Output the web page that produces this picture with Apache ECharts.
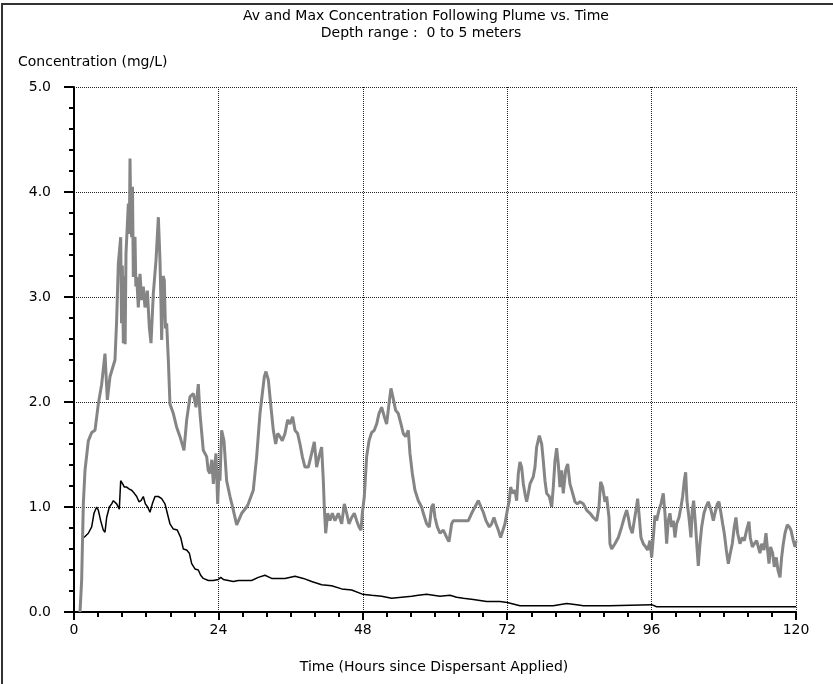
<!DOCTYPE html>
<html>
<head>
<meta charset="utf-8">
<script src="https://cdn.jsdelivr.net/npm/echarts@6/dist/echarts.min.js"></script>
<style>
  html, body { margin: 0; padding: 0; background: #fff; }
  #chart { width: 833px; height: 684px; }
</style>
</head>
<body>
<div id="chart"></div>
<script>
// max concentration following plume (gray) - hours / mg/L
var maxHours = [1.0,1.27,1.55,1.83,2.38,2.94,3.49,4.04,4.6,5.15,5.54,5.98,6.81,7.09,7.37,7.76,7.9,8.03,8.2,8.37,8.5,8.64,9.03,9.2,9.31,9.45,9.58,9.72,9.86,10.0,10.14,10.28,10.42,10.69,10.97,11.25,11.52,11.8,12.19,12.52,12.8,13.18,13.63,14.02,14.29,14.45,14.57,14.8,15.01,15.2,15.4,15.68,15.95,16.51,17.06,17.62,18.28,18.73,19.28,19.83,20.28,20.66,20.94,21.49,22.05,22.3,22.6,22.9,23.16,23.4,23.6,23.88,24.1,24.26,24.54,24.93,25.37,25.93,26.48,27.04,27.87,28.7,28.97,29.8,30.36,30.91,31.3,31.63,31.91,32.3,32.74,33.13,33.52,33.85,34.24,34.62,35.07,35.51,35.9,36.34,36.73,37.17,37.56,37.95,38.39,38.95,39.5,39.94,40.33,40.72,41.16,41.44,41.6,41.83,42.16,42.55,42.93,43.38,43.93,44.49,44.93,45.32,45.7,46.15,46.59,46.98,47.37,47.7,47.92,48.25,48.64,49.03,49.47,49.91,50.3,50.69,51.13,51.58,51.96,52.35,52.68,53.07,53.46,53.9,54.35,54.73,55.12,55.56,55.84,56.23,56.67,57.23,57.78,58.06,58.61,59.05,59.44,59.72,60.0,60.38,60.83,61.38,61.94,62.32,62.77,63.04,63.87,64.71,65.54,66.09,66.64,67.2,67.64,68.03,68.47,69.03,69.41,69.8,70.13,70.52,70.91,71.24,71.63,72.02,72.35,72.57,72.9,73.29,73.57,73.85,74.12,74.4,74.68,74.95,75.23,75.51,75.79,76.34,76.62,76.89,77.34,77.73,78.0,78.28,78.56,79.0,79.39,79.66,79.94,80.22,80.49,80.77,81.05,81.32,81.71,82.05,82.43,82.88,83.26,83.65,84.1,84.65,85.2,85.76,86.31,86.87,87.25,87.53,87.86,88.25,88.53,88.92,89.08,89.36,89.91,90.47,91.02,91.46,91.85,92.13,92.41,92.79,93.12,93.4,93.68,93.96,94.23,94.62,95.01,95.34,95.73,96.01,96.34,96.56,96.84,97.22,97.56,97.94,98.22,98.5,98.77,99.05,99.33,99.61,99.88,100.16,100.55,100.88,101.16,101.43,101.66,101.88,102.21,102.54,102.76,102.99,103.32,103.54,103.76,104.04,104.32,104.7,105.04,105.42,105.87,106.26,106.53,106.92,107.2,107.53,107.81,108.08,108.42,108.75,109.08,109.41,109.74,110.02,110.3,110.69,111.07,111.41,111.79,112.18,112.4,112.74,113.07,113.46,113.73,114.01,114.29,114.67,115.01,115.28,115.51,115.78,116.12,116.39,116.72,117.0,117.34,117.61,117.89,118.17,118.55,118.89,119.16,119.55,119.83,120.0];
var maxConc = [0.00,0.30,1.03,1.35,1.63,1.71,1.73,1.98,2.17,2.46,2.02,2.24,2.40,2.78,3.32,3.57,2.75,3.30,2.56,3.20,2.55,3.41,3.89,3.60,4.32,3.70,3.57,4.05,3.19,3.55,3.57,3.10,3.19,2.90,3.22,2.97,3.10,2.90,3.06,2.71,2.56,3.03,3.35,3.76,3.35,2.95,2.59,3.20,3.16,2.70,2.75,2.40,1.98,1.89,1.76,1.67,1.54,1.83,2.05,2.08,1.95,2.17,1.89,1.54,1.48,1.35,1.32,1.45,1.22,1.40,1.51,1.03,1.35,1.25,1.73,1.63,1.25,1.10,0.97,0.83,0.94,1.00,1.03,1.16,1.48,1.89,2.08,2.24,2.29,2.21,1.95,1.73,1.60,1.70,1.67,1.63,1.70,1.83,1.79,1.86,1.73,1.70,1.60,1.48,1.38,1.38,1.51,1.62,1.38,1.48,1.57,1.25,1.00,0.75,0.94,0.87,0.94,0.87,0.94,0.84,1.03,0.94,0.84,0.90,0.94,0.87,0.81,0.78,0.94,1.10,1.48,1.63,1.71,1.73,1.79,1.89,1.95,1.86,1.79,1.98,2.13,2.03,1.92,1.89,1.79,1.70,1.67,1.73,1.51,1.32,1.16,1.06,1.00,0.94,0.84,0.81,1.00,1.03,0.90,0.81,0.75,0.78,0.71,0.67,0.84,0.87,0.87,0.87,0.87,0.94,1.00,1.06,1.00,0.95,0.87,0.81,0.84,0.90,0.84,0.78,0.71,0.70,0.84,0.97,1.06,1.19,1.13,1.16,1.06,1.32,1.43,1.38,1.22,1.13,1.05,1.13,1.22,1.29,1.38,1.57,1.68,1.60,1.44,1.25,1.13,1.10,1.00,1.19,1.44,1.56,1.41,1.19,1.35,1.13,1.35,1.41,1.22,1.13,1.05,1.03,1.05,1.03,0.97,0.94,0.90,0.87,1.00,1.24,1.19,1.05,1.10,0.90,0.65,0.60,0.65,0.71,0.81,0.90,0.97,0.90,0.81,0.75,0.87,0.97,1.08,0.90,0.71,0.65,0.62,0.59,0.68,0.52,0.75,0.92,0.87,0.97,1.03,1.13,0.94,0.65,0.87,0.94,0.81,0.87,0.71,0.84,0.90,1.00,1.10,1.25,1.33,1.06,0.90,0.71,0.97,1.06,0.81,0.62,0.44,0.65,0.81,0.94,1.00,1.05,0.97,0.87,0.94,1.03,1.05,0.94,0.84,0.75,0.59,0.46,0.56,0.65,0.81,0.90,0.75,0.65,0.71,0.68,0.78,0.86,0.71,0.62,0.65,0.68,0.62,0.56,0.65,0.59,0.75,0.59,0.46,0.62,0.56,0.43,0.52,0.40,0.33,0.52,0.65,0.75,0.83,0.81,0.78,0.68,0.62,0.68];

// average concentration (black)
var avgHours = [1.66,2.38,2.94,3.32,3.77,4.04,4.43,4.87,5.15,5.43,5.87,6.26,6.54,7.09,7.53,7.76,8.09,8.37,8.75,9.2,9.58,10.03,10.42,10.8,11.14,11.52,11.86,12.24,12.63,13.02,13.46,14.02,14.57,15.12,15.51,15.95,16.51,17.17,17.73,18.17,18.73,19.17,19.56,20.11,20.66,21.05,21.49,22.33,23.16,23.99,24.38,24.82,25.65,26.48,27.31,28.42,29.52,30.63,31.74,32.85,33.96,35.07,36.73,38.12,39.5,41.16,42.82,44.49,46.15,47.92,49.47,51.13,52.79,54.45,56.12,57.23,58.61,59.72,60.83,62.49,63.6,64.71,66.37,68.58,70.8,72.02,74.12,76.89,79.66,81.88,83.54,84.65,87.42,88.97,96.01,96.84,120.0];
var avgConc = [0.71,0.75,0.81,0.94,1.00,0.97,0.87,0.78,0.76,0.90,1.00,1.03,1.06,1.03,0.98,1.25,1.22,1.19,1.19,1.17,1.16,1.13,1.10,1.05,1.06,1.10,1.03,1.00,0.95,1.03,1.10,1.10,1.08,1.03,0.94,0.84,0.79,0.78,0.71,0.60,0.59,0.56,0.46,0.41,0.40,0.35,0.32,0.30,0.30,0.31,0.33,0.31,0.30,0.29,0.30,0.30,0.30,0.33,0.35,0.32,0.32,0.32,0.34,0.32,0.29,0.26,0.25,0.22,0.21,0.17,0.16,0.15,0.13,0.14,0.15,0.16,0.17,0.16,0.15,0.16,0.14,0.13,0.12,0.10,0.10,0.09,0.06,0.06,0.06,0.08,0.07,0.06,0.06,0.06,0.07,0.05,0.05];

var xTicks = [0, 24, 48, 72, 96, 120];
var yTicks = [0.0, 1.0, 2.0, 3.0, 4.0, 5.0];

var fontName = 'DejaVu Sans';

function zip (xs, ys) {
  var out = [];
  for (var i = 0; i < xs.length; i++) {
    out.push([xs[i], ys[i]]);
  }
  return out;
}

function label (text, x, y, align) {
  return {
    type: 'text', x: x, y: y,
    style: { text: text, font: '14px "' + fontName + '"', fill: '#000', textAlign: align, textVerticalAlign: 'middle' }
  };
}

var chart = echarts.init(document.getElementById('chart'));

var option = {
  animation: false,
  backgroundColor: '#fff',
  grid: {
    left: 74,
    right: 37,
    top: 87,
    bottom: 72
  },
  graphic: [
    {
      type: 'rect',
      shape: { x: 2, y: 4, width: 860, height: 720 },
      style: { fill: 'none', stroke: '#333', lineWidth: 2 }
    },
    label('Av and Max Concentration Following Plume vs. Time', 426, 16, 'center'),
    label('Depth range :  0 to 5 meters', 421, 33, 'center'),
    label('Concentration (mg/L)', 18, 62, 'left'),
    label('Time (Hours since Dispersant Applied)', 434, 667, 'center')
  ],
  xAxis: {
    type: 'value',
    min: xTicks[0],
    max: xTicks[xTicks.length - 1],
    interval: 24,
    axisLine: { show: true, onZero: false, lineStyle: { color: '#000', width: 2 } },
    axisTick: { show: true, inside: false, length: 8, lineStyle: { color: '#000', width: 2 } },
    minorTick: { show: true, splitNumber: 6, length: 5, lineStyle: { color: '#000', width: 2 } },
    axisLabel: { color: '#000', fontFamily: fontName, fontSize: 14, margin: 11 },
    splitLine: { show: true, lineStyle: { color: '#222', width: 1, type: [1, 1] } }
  },
  yAxis: {
    type: 'value',
    min: yTicks[0],
    max: yTicks[yTicks.length - 1],
    interval: 1,
    axisLine: { show: true, onZero: false, lineStyle: { color: '#000', width: 2 } },
    axisTick: { show: true, inside: false, length: 10, lineStyle: { color: '#000', width: 2 } },
    minorTick: { show: true, splitNumber: 5, length: 5, lineStyle: { color: '#000', width: 2 } },
    axisLabel: {
      color: '#000', fontFamily: fontName, fontSize: 14, margin: 23,
      formatter: function (v) { return v.toFixed(1) }
    },
    splitLine: { show: true, lineStyle: { color: '#222', width: 1, type: [1, 1] } }
  },
  series: [
    {
      name: 'Average',
      type: 'line',
      data: zip(avgHours, avgConc),
      symbol: 'none',
      lineStyle: { color: '#000', width: 1.5 },
      z: 3
    },
    {
      name: 'Max',
      type: 'line',
      data: zip(maxHours, maxConc),
      symbol: 'none',
      lineStyle: { color: '#858585', width: 3 },
      z: 4
    }
  ]
};

chart.setOption(option);
</script>
</body>
</html>
